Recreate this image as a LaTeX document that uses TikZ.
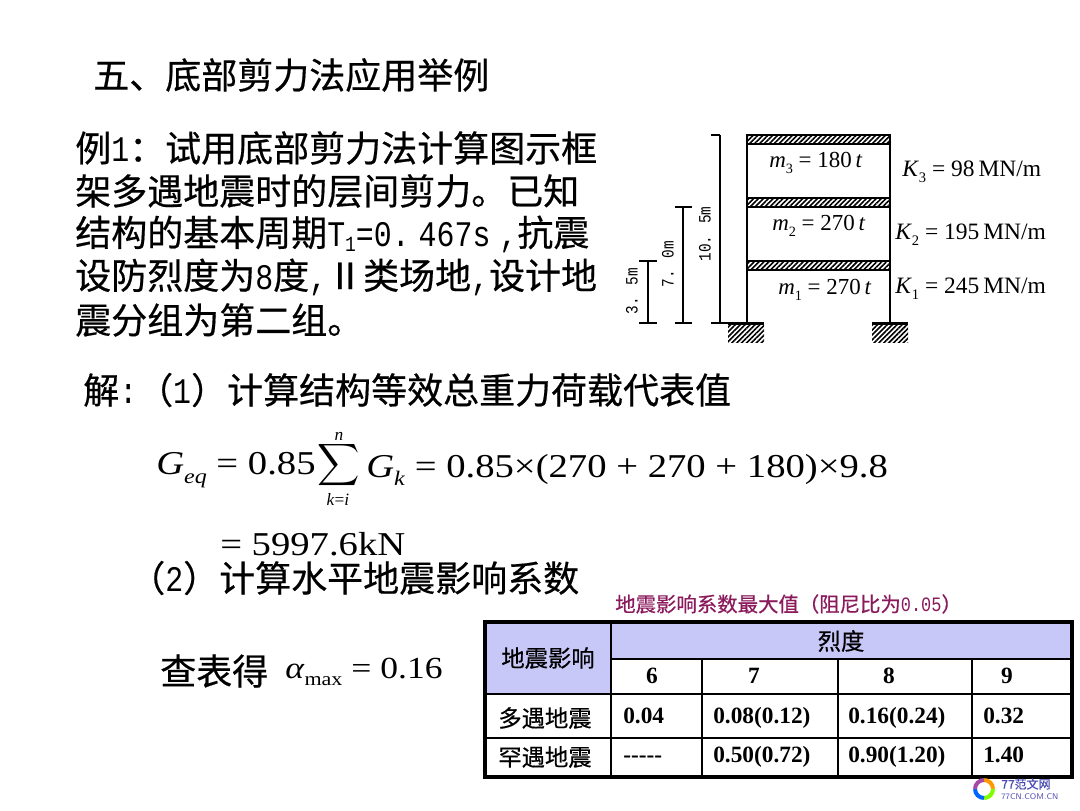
\documentclass[tikz,border=0pt]{standalone}
\usepackage{fontspec}
\usepackage{amsmath}
\usetikzlibrary{patterns.meta}
\setmainfont{Liberation Serif}
\newfontfamily\cjk[FakeBold=0.5]{Noto Sans CJK SC}
\newfontfamily\lat[FakeStretch=0.83]{Liberation Mono}
\newfontfamily\eqf[FakeStretch=1.16]{Liberation Serif}
\newcommand{\sub}[2]{\textit{#1}\raisebox{-0.25em}{\scalebox{0.62}{#2}}}
\newcommand{\lpar}{\char"FF08 }
\newcommand{\rpar}{\char"FF09 }
\newcommand{\fcolon}{\char"FF1A }
\definecolor{headfill}{HTML}{C8C8F8}
\definecolor{capcolor}{HTML}{8A1A5C}
\tikzset{
  big/.style={anchor=west,inner sep=0pt,font=\cjk\fontsize{27}{27}\selectfont},
  eq/.style={anchor=west,inner sep=0pt,font=\eqf\fontsize{25}{25}\selectfont},
  lab/.style={anchor=west,inner sep=0pt,font=\fontsize{17.2}{17.2}\selectfont},
  stiff/.style={anchor=west,inner sep=0pt,font=\fontsize{17.6}{17.6}\selectfont},
  dim/.style={inner sep=0pt,rotate=90,font=\lat\fontsize{13}{13}\selectfont},
  cell/.style={inner sep=0pt,font=\cjk\fontsize{17.5}{17.5}\selectfont},
  num/.style={anchor=west,inner sep=0pt,text height=11pt,text depth=3pt,font=\bfseries\fontsize{17.5}{17.5}\selectfont},
  hatch/.style={pattern={Lines[angle=45,distance=2.6pt,line width=1.2pt]},pattern color=black},
  beam/.style={draw,line width=1pt,hatch},
  tick/.style={line width=1.3pt},
  grid/.style={line width=1pt},
}
\begin{document}
\begin{tikzpicture}[x=0.75pt,y=-0.75pt]
  \useasboundingbox (0,0) rectangle (1080,810);
  % text
  \node (title) [big] at (93,75) {五、底部剪力法应用举例};
  \node (l1) [big] at (75,148) {例{\lat 1}\fcolon 试用底部剪力法计算图示框};
  \node (l2) [big] at (75,191) {架多遇地震时的层间剪力。已知};
  \node (l3) [big] at (75,234) {结构的基本周期{\lat T\raisebox{-0.15em}{\scalebox{0.6}{1}}=0.\hspace{0.25em}467s\hspace{0.25em},}抗震};
  \node (l4) [big] at (75,277) {设防烈度为{\lat 8}度{\lat ,}Ⅱ类场地{\lat ,}设计地};
  \node (l5) [big] at (75,320) {震分组为第二组。};
  \node (sol1) [big] at (83,390) {解{\lat :}\lpar{\lat 1}\rpar 计算结构等效总重力荷载代表值};
  \node (sol2) [big] at (129,578) {\lpar{\lat 2}\rpar 计算水平地震影响系数};
  \node (look) [big] at (160,671) {查表得};
  % formulas
  \node (Geq) [eq] at (156,470) {\sub{G}{\textit{eq}} = 0.85};
  \node (sum) at (339,472) {\smash{\scalebox{2.2}{$\displaystyle\sum$}}};
  \node (top) [inner sep=0pt,font=\fontsize{13}{13}\selectfont] at (339,436) {\textit{n}};
  \node (bot) [inner sep=0pt,font=\fontsize{13}{13}\selectfont] at (338,499) {\textit{k}=\textit{i}};
  \node (Gk) [eq] at (366,470) {\sub{G}{\textit{k}} = 0.85×(270 + 270 + 180)×9.8};
  \node (res) [eq] at (220,544) {= 5997.6kN};
  \node (amax) [eq,font=\eqf\fontsize{23}{23}\selectfont] at (285,672) {\textit{α}\raisebox{-0.25em}{\scalebox{0.62}{max}} = 0.16};
  % frame
  \foreach \y in {135,198,261}
    \draw[beam] (747,\y) rectangle (890,\y+9);
  \draw[line width=0.8pt] (747,144) -- (747,322);
  \draw[line width=0.8pt] (890,144) -- (890,322);
  \foreach \x in {728,872} {
    \fill (\x,322) rectangle (\x+36,325);
    \fill[hatch] (\x,325) rectangle (\x+36,342);
  }
  % dimensions
  \coordinate (d3t) at (720,135); \coordinate (d3b) at (720,323);
  \coordinate (d2t) at (683,207); \coordinate (d2b) at (683,323);
  \coordinate (d1t) at (648,261); \coordinate (d1b) at (648,323);
  \draw[tick] (d3t) -- (d3b);
  \draw[tick] (d2t) -- (d2b);
  \draw[tick] (d1t) -- (d1b);
  \draw[tick] (711,135) -- (d3t) (711,323) -- (728,323);
  \draw[tick] (675,207) -- (692,207) (675,323) -- (692,323);
  \draw[tick] (639,261) -- (657,261) (639,323) -- (657,323);
  \node (h3) [dim] at (705,234) {10. 5m};
  \node (h2) [dim] at (668,264) {7. 0m};
  \node (h1) [dim] at (632,291) {3. 5m};
  \node (m3) [lab] at (769,163) {\sub{m}{3} = 180\,\textit{t}};
  \node (m2) [lab] at (772,226) {\sub{m}{2} = 270\,\textit{t}};
  \node (m1) [lab] at (778,290) {\sub{m}{1} = 270\,\textit{t}};
  \node (K3) [stiff] at (902,172) {\sub{K}{3} = 98\,MN/m};
  \node (K2) [stiff] at (895,235) {\sub{K}{2} = 195\,MN/m};
  \node (K1) [stiff] at (895,289) {\sub{K}{1} = 245\,MN/m};
  % table
  \node (cap) [cell,anchor=west,text=capcolor,font=\cjk\fontsize{15.3}{15.3}\selectfont] at (615,604) {地震影响系数最大值\lpar 阻尼比为{\lat 0.05}\rpar};
  \fill[headfill] (485,622) rectangle (611,694) (611,622) rectangle (1072,659);
  \draw[grid] (611,659) -- (1072,659);
  \draw[grid] (485,694) -- (1072,694);
  \draw[grid] (485,738) -- (1072,738);
  \draw[grid] (611,622) -- (611,777);
  \foreach \x in {702,838,972}
    \draw[grid] (\x,659) -- (\x,777);
  \draw[line width=2.4pt] (485,622) rectangle (1072,777);
  \node (th) [cell] at (548,658) {地震影响};
  \node (ld) [cell] at (841,641) {烈度};
  \foreach \x/\t in {652/6,754/7,889/8,1007/9}
    \node (i\t) [num,anchor=center] at (\x,678) {\t};
  \node (r1) [cell] at (545,718) {多遇地震};
  \node (r2) [cell] at (545,757) {罕遇地震};
  \foreach \x/\t/\n in {623/0.04/a,713/0.08(0.12)/b,848/0.16(0.24)/c,983/0.32/d}
    \node (u\n) [num] at (\x,718) {\t};
  \foreach \x/\t/\n in {623/-{}-{}-{}-{}-/a,713/0.50(0.72)/b,848/0.90(1.20)/c,983/1.40/d}
    \node (v\n) [num] at (\x,757) {\t};
  % logo
  \draw[line width=3pt,orange!80!yellow] (984,780) arc (-90:0:9);
  \draw[line width=3pt,green!50!yellow] (993,789) arc (0:90:9);
  \draw[line width=3pt,blue!60!cyan] (984,798) arc (90:180:9);
  \draw[line width=3pt,violet!70] (975,789) arc (180:270:9);
  \node (lg1) [anchor=west,inner sep=0pt,text=blue!40!gray,font=\cjk\fontsize{9}{9}\selectfont] at (1001,784) {77范文网};
  \node (lg2) [anchor=west,inner sep=0pt,text=blue!40!gray,font=\sffamily\fontsize{6.2}{6.2}\selectfont] at (1001,797) {77CN.COM.CN};
\end{tikzpicture}
\end{document}
